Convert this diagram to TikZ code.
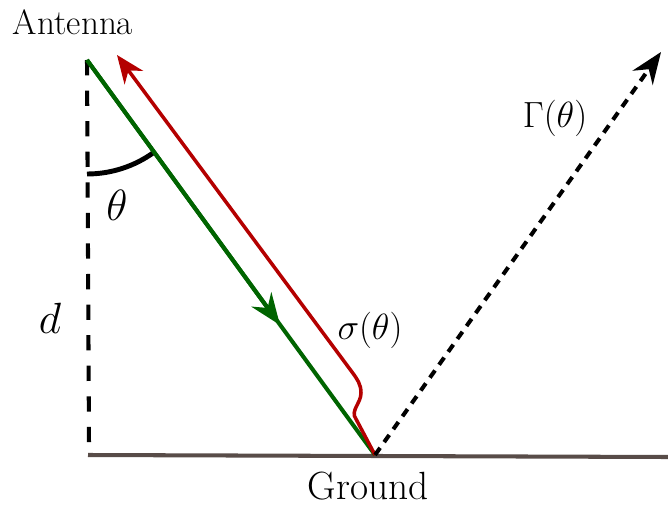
\documentclass[tikz,border=0pt]{standalone}
\usetikzlibrary{arrows.meta}
\definecolor{wavegreen}{RGB}{0,100,0}
\definecolor{wavered}{RGB}{180,0,0}
\definecolor{groundgray}{RGB}{88,76,72}
\begin{document}
\begin{tikzpicture}[x=0.02cm, y=0.02cm,
                        label/.style={
                            font=\fontsize{20}{24}\selectfont,
                            inner sep=0pt
                        },
                        biglabel/.style={
                            font=\fontsize{25}{30}\selectfont,
                            inner sep=0pt
                        },
                        ray/.style={
                            line width=2.3pt
                        }
                    ]
                    \useasboundingbox (0,0) rectangle (668,507);

                    % Points
                    \coordinate (antenna) at (87,447);
                    \coordinate (hit) at (375,52);
                    \coordinate (foot) at (89,62);
                    \coordinate (groundL) at (88,52);
                    \coordinate (groundR) at (668,50);
                    \coordinate (mid) at (280,182);
                    \coordinate (echo) at (117,452);
                    \coordinate (out) at (661,455);

                    % Ground
                    \draw[ray, groundgray] (groundL) -- (groundR);

                    % Height (dashed)
                    \draw[ray, dash pattern=on 8.7pt off 8.7pt] (antenna) -- (foot);

                    % Angle
                    \draw[line width=2.8pt] ([shift={(-90:114)}] antenna) arc[start angle=-90, end angle=-54, radius=114];

                    % Incident ray (green)
                    \draw[ray, wavegreen] (antenna) -- (hit);
                    \draw[ray, wavegreen, -{Stealth[length=18pt, width=14pt, inset=6pt]}] (antenna) -- (mid);

                    % Backscatter (red)
                    \draw[line width=2pt, wavered, -{Stealth[length=16pt, width=13pt, inset=5pt]}]
                        (hit) -- (356,88) to[out=126, in=-90] (361,114)
                        to[out=90, in=-54] (352,135) -- (echo);

                    % Reflection (dotted)
                    \draw[ray, dash pattern=on 5pt off 4pt, -{Stealth[length=18pt, width=14pt, inset=6pt]}] (hit) -- (out);

                    % Labels
                    \node[label] (lantenna) at (73,485) {Antenna};
                    \node[label, font=\fontsize{22.4}{27}\selectfont] (lground) at (368,21) {Ground};
                    \node[label] (lsigma) at (370,177) {$\sigma(\theta)$};
                    \node[label] (lgamma) at (555,389) {$\Gamma(\theta)$};
                    \node[biglabel] (ltheta) at (117,302) {$\theta$};
                    \node[biglabel] (ld) at (50,189) {$d$};
\end{tikzpicture}
\end{document}
